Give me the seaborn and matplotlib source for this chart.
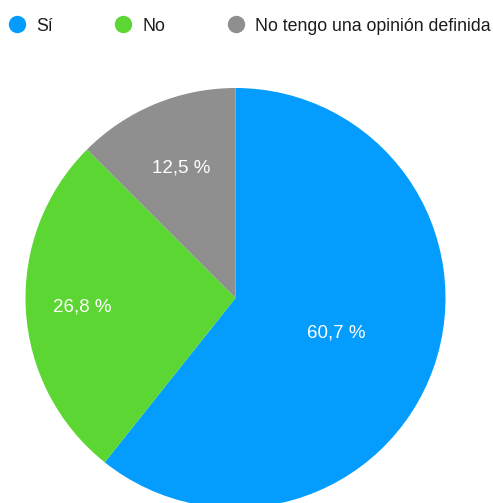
import matplotlib
matplotlib.use("Agg")
import matplotlib.pyplot as plt
from matplotlib.lines import Line2D
import seaborn as sns
import numpy as np

# Survey answers and their shares (percent)
categories = ["Sí", "No", "No tengo una opinión definida"]
shares = [60.7, 26.8, 12.5]
share_labels = ["60,7 %", "26,8 %", "12,5 %"]
colors = ["#049DFE", "#5CD632", "#8F8F8F"]

sns.set_theme(style="white")
plt.rcParams["font.family"] = ["Liberation Sans", "DejaVu Sans"]

W, H = 493, 503
fig = plt.figure(figsize=(W / 100, H / 100), dpi=100)
ax = fig.add_axes([0, 0, 1, 1])

cx, cy, r = 235.5, H - 298, 210
wedges, _ = ax.pie(
    shares,
    colors=sns.color_palette(colors),
    startangle=90,
    counterclock=False,
    center=(cx, cy),
    radius=r,
    wedgeprops=dict(linewidth=0),
    frame=True,
)
ax.set_xlim(0, W)
ax.set_ylim(0, H)
ax.set_aspect("equal")
ax.axis("off")

# value labels placed along each wedge's bisector
label_radius = [0.51, 0.73, 0.67]
for w, txt, f in zip(wedges, share_labels, label_radius):
    mid = np.deg2rad((w.theta1 + w.theta2) / 2)
    ax.text(cx + f * r * np.cos(mid), cy + f * r * np.sin(mid), txt,
            ha="center", va="center", color="white", fontsize=13.5)

handles = [Line2D([], [], marker="o", linestyle="none", markersize=12.5,
                  markerfacecolor=c, markeredgewidth=0) for c in colors]
fig.legend(handles, categories, loc="upper left", ncol=3,
           bbox_to_anchor=(-0.02, 0.997), frameon=False, fontsize=12.8,
           handletextpad=0.47, columnspacing=3.38, handlelength=1.2,
           labelcolor="#1c1c1c", borderaxespad=0.5)

fig.savefig("out.png", dpi=100)
